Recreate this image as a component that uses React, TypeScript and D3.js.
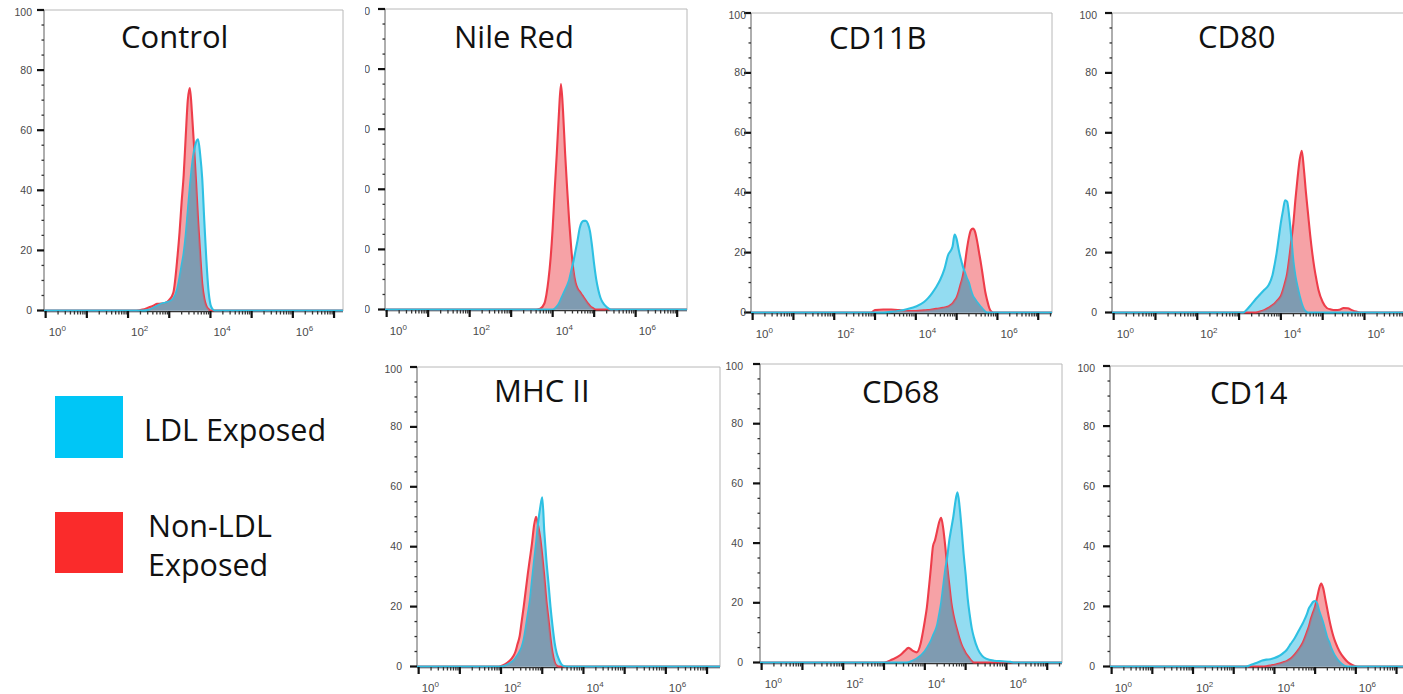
import React from 'react';
import * as d3 from 'd3';

// ---------- text ----------
const TITLES = ['Control', 'Nile Red', 'CD11B', 'CD80', 'MHC II', 'CD68', 'CD14'];
const LEGEND_LDL = 'LDL Exposed';
const LEGEND_NON = ['Non-LDL', 'Exposed'];
const Y_TICKS = [0, 20, 40, 60, 80, 100];
const Y_MINOR_STEP = 5;
const X_DECADES = [0, 1, 2, 3, 4, 5, 6, 7];
const X_LABEL_EXPONENTS = [0, 2, 4, 6];
const X_MIN_EXP = -0.04;
const X_MAX_EXP = 7.2;

// ---------- data: log10(fluorescence) grid and % of max for each panel ----------
const CONTROL_LOGX = [-0.05, 2.2, 2.35, 2.5, 2.6, 2.7, 2.8, 2.9, 3.0, 3.1, 3.2, 3.25, 3.3, 3.35, 3.4, 3.45, 3.5, 3.55, 3.6, 3.65, 3.7, 3.75, 3.8, 3.85, 3.9, 3.95, 4.0, 4.05, 4.1, 4.2, 7.4];
const CONTROL_NON = [0, 0, 0.3, 1, 1.5, 2.2, 2.3, 2.5, 3.5, 6, 18, 26, 36, 45, 58, 70, 74, 66, 55, 43, 30, 19, 9, 4, 1.5, 0.5, 0, 0, 0, 0, 0];
const CONTROL_LDL = [0, 0, 0, 0.2, 0.8, 1.5, 2.2, 2.6, 3, 4, 7.5, 11, 15, 19, 25, 33, 41, 48, 53, 56, 57, 52, 44, 30, 17, 7, 2, 0.5, 0, 0, 0];

const NILE_LOGX = [-0.05, 3.6, 3.7, 3.8, 3.85, 3.9, 3.95, 4.0, 4.05, 4.1, 4.15, 4.2, 4.25, 4.3, 4.35, 4.4, 4.45, 4.5, 4.55, 4.6, 4.65, 4.7, 4.75, 4.8, 4.85, 4.9, 4.95, 5.0, 5.05, 5.1, 5.15, 5.2, 5.3, 5.4, 7.4];
const NILE_NON = [0, 0, 0.3, 2, 5, 10, 17, 27, 40, 52, 65, 75, 66, 52, 40, 29, 20, 13, 9, 7, 6, 5, 4, 3, 2, 1.2, 0.6, 0.2, 0, 0, 0, 0, 0, 0, 0];
const NILE_LDL = [0, 0, 0, 0, 0, 0, 0, 0, 0.3, 1, 2, 3.5, 5, 6.5, 8, 10, 13, 16, 19.5, 23, 27, 29, 29.5, 29.5, 28.5, 26, 21, 15, 10, 6.5, 4, 2.5, 0.8, 0, 0];

const CD11B_LOGX = [-0.05, 2.9, 3.0, 3.2, 3.4, 3.6, 3.8, 4.0, 4.2, 4.3, 4.4, 4.5, 4.6, 4.7, 4.8, 4.85, 4.9, 4.95, 5.0, 5.05, 5.1, 5.15, 5.2, 5.25, 5.3, 5.35, 5.4, 5.45, 5.5, 5.55, 5.6, 5.65, 5.7, 5.75, 5.8, 5.85, 5.9, 7.4];
const CD11B_NON = [0, 0, 0.8, 1, 1, 0.8, 0.5, 0.5, 0.7, 0.8, 1, 1.2, 1.4, 1.7, 2, 2.5, 3, 4, 5, 7, 9.5, 12, 16, 21, 25, 27.5, 28, 27, 24, 20, 16, 11.5, 7, 4, 1.5, 0.3, 0, 0];
const CD11B_LDL = [0, 0, 0, 0, 0.2, 0.6, 1.2, 2, 3.5, 4.8, 6.5, 8.5, 11, 14.5, 19.5, 20.5, 22, 26, 24.5, 21, 18, 15.5, 13.5, 11.5, 10, 7.5, 5.5, 4.5, 3.5, 2.6, 1.8, 1, 0.3, 0, 0, 0, 0, 0];

const CD80_LOGX = [-0.05, 3.1, 3.2, 3.3, 3.4, 3.5, 3.6, 3.7, 3.8, 3.85, 3.9, 3.95, 4.0, 4.05, 4.1, 4.15, 4.2, 4.25, 4.3, 4.35, 4.4, 4.45, 4.5, 4.55, 4.6, 4.65, 4.7, 4.75, 4.8, 4.85, 4.9, 5.0, 5.1, 5.2, 5.3, 5.4, 5.5, 5.6, 5.7, 5.8, 5.9, 7.4];
const CD80_NON = [0, 0, 0, 0, 0, 0.3, 0.8, 1.5, 2.5, 3, 3.8, 4.5, 5.5, 7.5, 10, 13, 18, 24, 30, 38, 45, 51, 54, 48, 40, 33, 26, 20, 15, 11, 7.5, 3.5, 1.5, 1, 0.8, 0.9, 1.5, 1.4, 0.8, 0.3, 0, 0];
const CD80_LDL = [0, 0, 1.2, 2.8, 4.5, 6, 7.5, 9, 12.5, 16, 20, 25, 30, 34, 37.5, 37, 32, 25, 17, 12, 8.5, 5.5, 3, 1.2, 0.3, 0, 0, 0, 0, 0, 0, 0, 0, 0, 0, 0, 0, 0, 0, 0, 0, 0];

const MHC_LOGX = [-0.05, 1.9, 2.0, 2.1, 2.2, 2.3, 2.35, 2.4, 2.45, 2.5, 2.55, 2.6, 2.65, 2.7, 2.75, 2.8, 2.85, 2.9, 2.95, 3.0, 3.05, 3.1, 3.15, 3.2, 3.25, 3.3, 3.35, 3.4, 3.5, 3.6, 7.4];
const MHC_NON = [0, 0, 0.2, 0.8, 1.8, 3.5, 5, 7.5, 10, 15, 20, 25.5, 31, 36, 41, 47, 50, 47, 43, 37, 30, 22, 16, 9.5, 4.5, 1.5, 0.3, 0, 0, 0, 0];
const MHC_LDL = [0, 0, 0, 0.3, 1, 2, 2.8, 3.8, 5, 6.5, 9, 13, 17.5, 22, 28.5, 35, 41, 48, 53, 56.5, 45, 35.5, 28, 20, 13.5, 8, 4.5, 2.5, 0.3, 0, 0];

const CD68_LOGX = [-0.05, 3.0, 3.2, 3.4, 3.5, 3.6, 3.7, 3.8, 3.9, 3.95, 4.0, 4.05, 4.1, 4.15, 4.2, 4.25, 4.3, 4.35, 4.4, 4.45, 4.5, 4.55, 4.6, 4.65, 4.7, 4.75, 4.8, 4.85, 4.9, 4.95, 5.0, 5.05, 5.1, 5.15, 5.2, 5.3, 5.4, 5.5, 5.7, 5.9, 6.1, 6.2, 7.4];
const CD68_NON = [0, 0, 1, 2.5, 3.8, 4.9, 4, 3.4, 6.5, 10, 14, 18.5, 25, 32, 39, 41, 44, 47, 48.5, 45, 39, 32, 26, 20, 16, 13, 10.5, 8, 6, 4.5, 3.2, 2.2, 1.3, 0.5, 0, 0, 0, 0, 0, 0, 0, 0, 0];
const CD68_LDL = [0, 0, 0, 0, 0, 0.1, 0.6, 1.3, 2.3, 3, 3.8, 4.8, 6, 7.3, 9, 10.5, 12.5, 16, 20, 25.5, 31, 35.5, 41, 45, 49, 54, 57, 52.5, 45, 36.5, 29.5, 21.5, 16, 11.5, 8.5, 4.5, 2.3, 1.3, 0.6, 0.4, 0.2, 0, 0];

const CD14_LOGX = [-0.05, 3.2, 3.3, 3.4, 3.5, 3.6, 3.7, 3.8, 3.9, 4.0, 4.1, 4.2, 4.3, 4.4, 4.5, 4.6, 4.7, 4.8, 4.85, 4.9, 4.95, 5.0, 5.05, 5.1, 5.15, 5.2, 5.25, 5.3, 5.35, 5.4, 5.45, 5.5, 5.6, 5.7, 5.8, 5.9, 6.0, 6.1, 7.4];
const CD14_NON = [0, 0, 0, 0, 0, 0, 0, 0.1, 0.3, 0.6, 0.9, 1.3, 1.8, 2.6, 4, 5.8, 8, 11.5, 13.5, 16, 18, 20, 23, 26, 27.6, 26, 22.5, 19, 15.5, 12.5, 10, 8, 5, 3, 1.5, 0.6, 0.1, 0, 0];
const CD14_LDL = [0, 0, 0, 0.4, 0.9, 1.4, 2, 2.3, 2.4, 2.8, 3.4, 4.3, 5.5, 7.5, 9.5, 12, 14.5, 17.5, 19.5, 20.5, 21.5, 21.8, 21, 18.5, 16.5, 14.5, 12, 9.5, 8, 6, 4.5, 3.3, 1.5, 0.4, 0, 0, 0, 0, 0];

const SERIES = [
  { logx: CONTROL_LOGX, non: CONTROL_NON, ldl: CONTROL_LDL },
  { logx: NILE_LOGX, non: NILE_NON, ldl: NILE_LDL },
  { logx: CD11B_LOGX, non: CD11B_NON, ldl: CD11B_LDL },
  { logx: CD80_LOGX, non: CD80_NON, ldl: CD80_LDL },
  { logx: MHC_LOGX, non: MHC_NON, ldl: MHC_LDL },
  { logx: CD68_LOGX, non: CD68_NON, ldl: CD68_LDL },
  { logx: CD14_LOGX, non: CD14_NON, ldl: CD14_LDL },
];

// ---------- layout ----------
const LAYOUT = [
  { L: 44, R: 343, T: 10, B: 311, dec: 41.2, gap: 12, tx: 121, ty: 48, clipLabels: 0 },
  { L: 385, R: 687, T: 9, B: 310, dec: 41.5, gap: 15, tx: 454, ty: 48, clipLabels: 365 },
  { L: 751, R: 1052, T: 13, B: 313, dec: 40.8, gap: 5, tx: 829, ty: 49, clipLabels: 0 },
  { L: 1112, R: 1425, T: 13, B: 313, dec: 41.8, gap: 15, tx: 1198, ty: 48, clipLabels: 0 },
  { L: 417, R: 720, T: 367, B: 667, dec: 41.2, gap: 15, tx: 494, ty: 402, clipLabels: 0 },
  { L: 760, R: 1062, T: 364, B: 663, dec: 40.8, gap: 17, tx: 862, ty: 403, clipLabels: 0 },
  { L: 1110, R: 1425, T: 366, B: 667, dec: 40.7, gap: 15, tx: 1210, ty: 404, clipLabels: 0 },
];

const COLORS = {
  nonStroke: '#ee3d4a',
  nonFill: '#f6a2a6',
  ldlStroke: '#2ec0e2',
  ldlFill: '#93dcf1',
  overlap: '#7f9bb1',
  legendLdl: '#00c6f6',
  legendNon: '#fa2b2b',
};

const TICK_FONT = "'Liberation Sans', Arial, sans-serif";
const TITLE_FONT = "'Open Sans', 'Noto Sans', sans-serif";

type Pt = { v: number; n: number; c: number; m: number };

function Panel({ idx }: { idx: number }) {
  const cfg = LAYOUT[idx];
  const s = SERIES[idx];
  const { L, R, T, B, dec, gap } = cfg;
  const x = d3
    .scaleLog()
    .domain([10 ** X_MIN_EXP, 10 ** X_MAX_EXP])
    .range([L, L + (X_MAX_EXP - X_MIN_EXP) * dec]);
  const y = d3.scaleLinear().domain([0, 100]).range([B - 0.5, T]);

  const pts: Pt[] = s.logx.map((e, i) => ({
    v: 10 ** e,
    n: s.non[i],
    c: s.ldl[i],
    m: Math.min(s.non[i], s.ldl[i]),
  }));
  const area = (k: 'n' | 'c' | 'm') =>
    d3
      .area<Pt>()
      .x((d) => x(d.v))
      .y0(y(0))
      .y1((d) => y(d[k]))
      .curve(d3.curveMonotoneX)(pts) || '';
  const line = (k: 'n' | 'c') =>
    d3
      .line<Pt>()
      .x((d) => x(d.v))
      .y((d) => y(d[k]))
      .curve(d3.curveMonotoneX)(pts) || '';

  const clipId = `plotclip${idx}`;
  const labClipId = `labclip${idx}`;

  const majors = X_DECADES.map((d) => 10 ** d).filter((v) => x(v) <= R);
  const minors: number[] = [];
  X_DECADES.forEach((d) => {
    for (let k = 2; k <= 9; k++) {
      const v = k * 10 ** d;
      if (x(v) <= R - 1) minors.push(v);
    }
  });
  const yMinors = d3.range(0, 100 + 0.001, Y_MINOR_STEP).filter((v) => !Y_TICKS.includes(v));

  return (
    <g>
      <defs>
        <clipPath id={clipId}>
          <rect x={L} y={T - 3} width={R - L} height={B - T + 4} />
        </clipPath>
        {cfg.clipLabels ? (
          <clipPath id={labClipId}>
            <rect x={cfg.clipLabels} y={0} width={L - cfg.clipLabels} height={700} />
          </clipPath>
        ) : null}
      </defs>

      {/* frame */}
      <line x1={L} x2={R} y1={T} y2={T} stroke="#b8b8b8" strokeWidth={1} />
      <line x1={R} x2={R} y1={T} y2={B} stroke="#b8b8b8" strokeWidth={1} />
      <line x1={L} x2={L} y1={T} y2={B} stroke="#8c8c8c" strokeWidth={1.4} />
      <line x1={L} x2={R} y1={B + 0.5} y2={B + 0.5} stroke="#333" strokeWidth={1.5} />

      {/* histograms */}
      <g clipPath={`url(#${clipId})`}>
        <path d={area('n')} fill={COLORS.nonFill} />
        <path d={area('c')} fill={COLORS.ldlFill} />
        <path d={area('m')} fill={COLORS.overlap} />
        <path d={line('n')} fill="none" stroke={COLORS.nonStroke} strokeWidth={2.1} strokeLinejoin="round" />
        <path d={line('c')} fill="none" stroke={COLORS.ldlStroke} strokeWidth={2.1} strokeLinejoin="round" />
        <path d={area('m')} fill={COLORS.overlap} opacity={0.55} />
      </g>

      {/* y axis ticks */}
      {Y_TICKS.map((v) => (
        <line key={`ym${v}`} x1={L - 7} x2={L} y1={y(v)} y2={y(v)} stroke="#111" strokeWidth={2.2} />
      ))}
      {yMinors.map((v) => (
        <line key={`yn${v}`} x1={L - 2.5} x2={L} y1={y(v)} y2={y(v)} stroke="#333" strokeWidth={1.3} />
      ))}
      <g clipPath={cfg.clipLabels ? `url(#${labClipId})` : undefined}>
        {Y_TICKS.map((v) => (
          <text
            key={`yl${v}`}
            x={L - gap}
            y={y(v) + (v === 100 ? 6 : 3.5)}
            textAnchor="end"
            fontSize={10.5}
            fontFamily={TICK_FONT}
            fill="#4a4a4a"
          >
            {v}
          </text>
        ))}
      </g>

      {/* x axis ticks */}
      {majors.map((v) => (
        <line key={`xm${v}`} x1={x(v)} x2={x(v)} y1={B} y2={B + 7} stroke="#111" strokeWidth={2.2} />
      ))}
      {minors.map((v) => (
        <line key={`xn${v}`} x1={x(v)} x2={x(v)} y1={B} y2={B + 3.5} stroke="#333" strokeWidth={1.3} />
      ))}
      {X_LABEL_EXPONENTS.map((e) => (
        <text key={`xl${e}`} x={x(10 ** e) + 3} y={B + 25} fontSize={11.5} fontFamily={TICK_FONT} fill="#4a4a4a">
          10
          <tspan dy={-5.5} fontSize={8}>
            {e}
          </tspan>
        </text>
      ))}

      {/* title */}
      <text x={cfg.tx} y={cfg.ty} fontSize={31} fontFamily={TITLE_FONT} fill="#111">
        {TITLES[idx]}
      </text>
    </g>
  );
}

export default function App() {
  return (
    <svg
      width={1403}
      height={694}
      viewBox="0 0 1403 694"
      style={{ position: 'fixed', left: 0, top: 0, background: '#fff' }}
    >
      <rect x={0} y={0} width={1403} height={694} fill="#fff" />
      {LAYOUT.map((_, i) => (
        <Panel key={i} idx={i} />
      ))}
      {/* legend */}
      <rect x={55} y={396} width={68} height={62} fill={COLORS.legendLdl} />
      <rect x={55} y={512} width={68} height={61} fill={COLORS.legendNon} />
      <text x={144} y={441} fontSize={30.5} fontFamily={TITLE_FONT} fill="#111">
        {LEGEND_LDL}
      </text>
      <text x={148} y={537} fontSize={30.5} fontFamily={TITLE_FONT} fill="#111">
        {LEGEND_NON[0]}
      </text>
      <text x={148} y={576} fontSize={30.5} fontFamily={TITLE_FONT} fill="#111">
        {LEGEND_NON[1]}
      </text>
    </svg>
  );
}
